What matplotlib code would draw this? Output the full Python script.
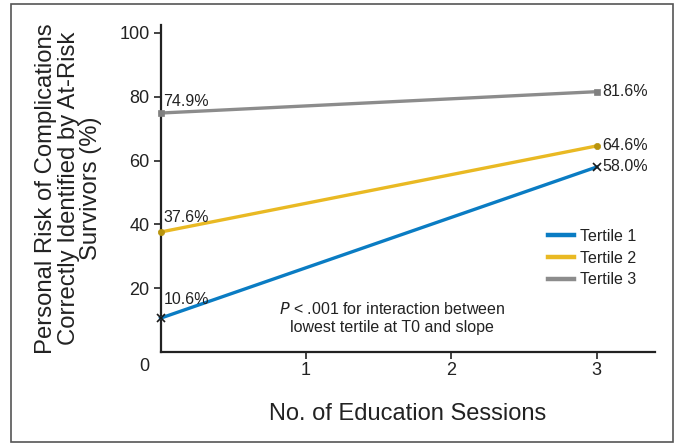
import matplotlib
matplotlib.use("Agg")
import matplotlib.pyplot as plt
from matplotlib.patches import Rectangle

# Data
sessions = [0, 3]
tertile_names = ["Tertile 1", "Tertile 2", "Tertile 3"]
tertile1 = [10.6, 58.0]
tertile2 = [37.6, 64.6]
tertile3 = [74.9, 81.6]
y_ticks = [20, 40, 60, 80, 100]
x_ticks = [1, 2, 3]

line_colors = ["#0a7cc3", "#e9b923", "#8c8c8c"]
marker_colors = ["#1a1a1a", "#b8940e", "#808080"]
markers = ["x", "o", "s"]
start_label_offsets = [8, 5, 3]  # points above the first marker

body = "Liberation Sans"

fig = plt.figure(figsize=(6.79, 4.43), dpi=100)
W, H = 679, 443

# outer frame
fig.patches.append(Rectangle((11 / W, 1 / H), 662 / W, 438 / H, transform=fig.transFigure,
                             fill=False, edgecolor="#555555", linewidth=1.2))

ax = fig.add_axes([160.5 / W, 91 / H, (655 - 160.5) / W, (352 - 25) / H])
ax.set_xlim(0, 3.4)
ax.set_ylim(0, 102.5)

for name, ys, lc, mc, mk, dy in zip(tertile_names, [tertile1, tertile2, tertile3],
                                    line_colors, marker_colors, markers, start_label_offsets):
    ax.plot(sessions, ys, color=lc, linewidth=2.4, label=name, zorder=3, clip_on=False)
    ms = 5.5 if mk == "x" else 4.5
    ax.plot(sessions, ys, linestyle="none", marker=mk, color=mc, markersize=ms,
            markeredgewidth=1.2 if mk == "x" else 0.5, zorder=4, clip_on=False)
    ax.annotate(f"{ys[0]:.1f}%", (sessions[0], ys[0]), xytext=(2, dy),
                textcoords="offset points", ha="left", va="bottom",
                fontsize=11.5, family=body, color="#222222")
    ax.annotate(f"{ys[1]:.1f}%", (sessions[1], ys[1]), xytext=(4, 0),
                textcoords="offset points", ha="left", va="center",
                fontsize=11.5, family=body, color="#222222")

for side in ["top", "right"]:
    ax.spines[side].set_visible(False)
for side in ["left", "bottom"]:
    ax.spines[side].set_linewidth(1.6)
    ax.spines[side].set_color("#222222")

ax.set_yticks(y_ticks)
ax.set_xticks(x_ticks)
ax.tick_params(axis="both", direction="out", length=5, width=1.2, colors="#222222",
               labelsize=13)
for lab in ax.get_xticklabels() + ax.get_yticklabels():
    lab.set_family(body)
ax.tick_params(axis="x", pad=2.5)
ax.tick_params(axis="y", pad=3)

# origin label
ax.text(-0.11, -2.0, "0", transform=ax.transData, ha="center", va="top",
        fontsize=13, family=body, color="#222222")

ax.set_xlabel("No. of Education Sessions", fontsize=17, family=body,
              color="#222222", labelpad=17)
ax.set_ylabel("Personal Risk of Complications\nCorrectly Identified by At-Risk\nSurvivors (%)",
              fontsize=17.2, family=body, color="#222222", labelpad=12, linespacing=1.05)

ax.text(1.59, 10.7, "$\\it{P}$ < .001 for interaction between\nlowest tertile at T0 and slope",
        ha="center", va="center", fontsize=11.5, family=body, color="#222222",
        linespacing=1.2)

leg = ax.legend(loc="upper left", bbox_to_anchor=((548 - 160.5) / (655 - 160.5), (352 - 229) / 327),
                frameon=False, fontsize=11.5, handlelength=1.6, handletextpad=0.4,
                labelspacing=0.42, borderaxespad=0, borderpad=0)
for t in leg.get_texts():
    t.set_family(body)
    t.set_color("#222222")
for h in leg.get_lines():
    h.set_linewidth(3.2)

fig.savefig("out.png", dpi=100)
